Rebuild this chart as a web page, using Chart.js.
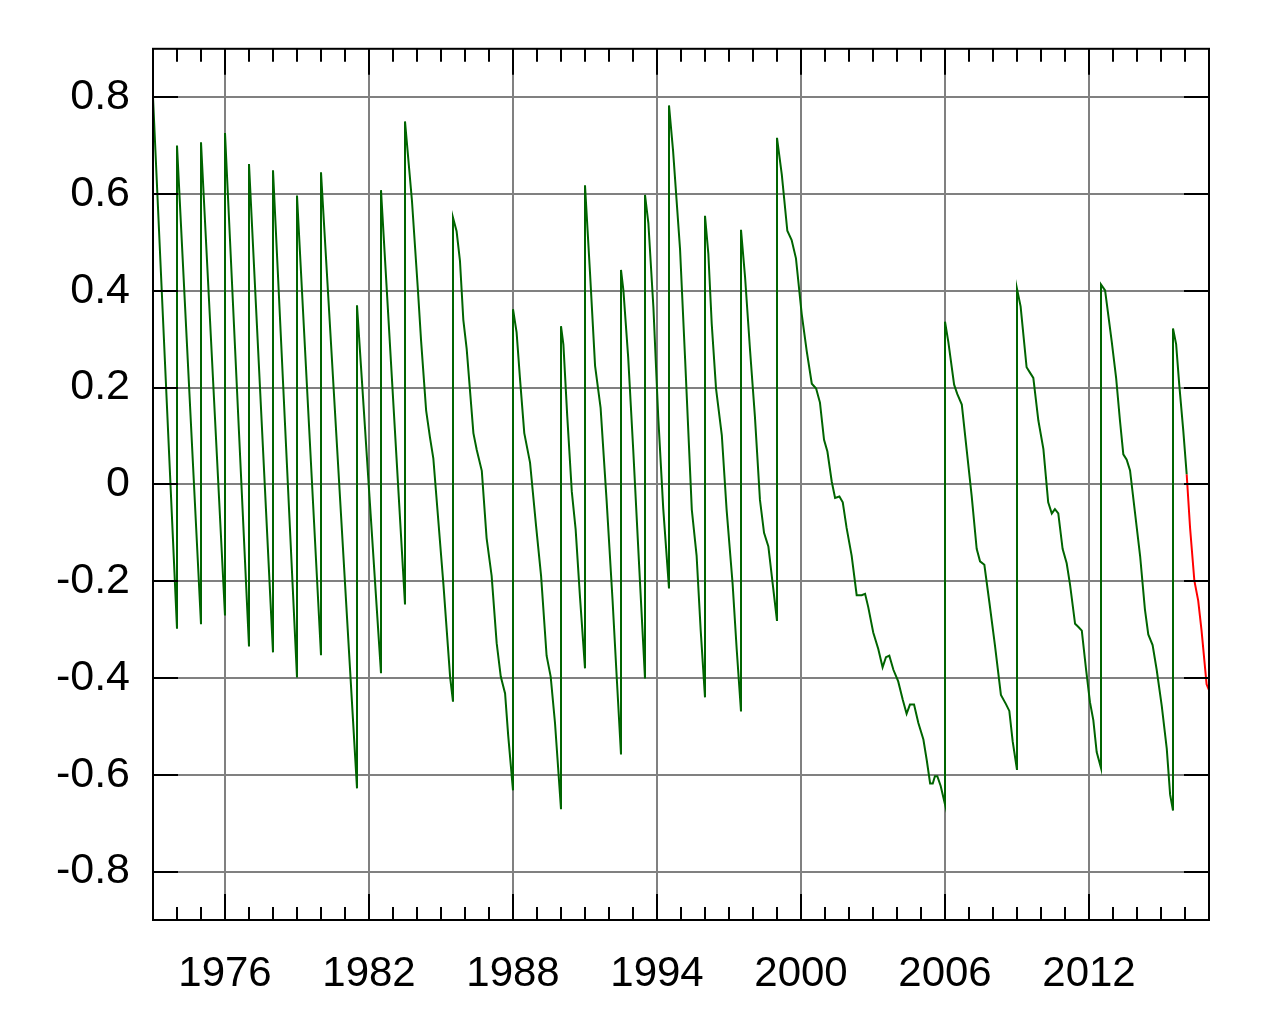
<!DOCTYPE html>
<html>
<head>
<meta charset="utf-8">
<script src="https://cdn.jsdelivr.net/npm/chart.js@4.4.0/dist/chart.umd.min.js"></script>
<style>
html,body{margin:0;padding:0;background:#fff;}
canvas{display:block;}
</style>
</head>
<body>
<canvas id="c" width="1280" height="1024"></canvas>
<script>
// UT1 - UTC (seconds), measured (green) and predicted (red)
const dut1Years = [
1973.00,1974.00,1974.00,1975.00,1975.00,1976.00,1976.00,1977.00,1977.00,1978.00,1978.00,
1979.00,1979.00,1980.00,1980.00,1981.50,1981.50,1982.50,1982.50,1983.50,1983.50,
1983.79,1984.04,1984.17,1984.38,1984.54,1984.68,1985.10,1985.38,1985.50,
1985.50,1985.65,1985.79,1985.93,1986.07,1986.35,1986.49,1986.70,1986.90,1987.11,1987.32,1987.49,1987.67,1987.80,1988.00,
1988.00,1988.15,1988.29,1988.47,1988.71,1988.96,1989.17,1989.40,1989.57,1989.75,1990.00,
1990.00,1990.10,1990.26,1990.45,1990.61,1990.79,1991.00,
1991.00,1991.21,1991.42,1991.65,1991.90,1992.15,1992.32,1992.50,
1992.50,1992.60,1992.80,1993.01,1993.26,1993.50,
1993.50,1993.64,1993.85,1994.05,1994.26,1994.50,
1994.50,1994.67,1994.96,1995.17,1995.45,1995.65,1995.82,1996.00,
1996.00,1996.14,1996.28,1996.46,1996.70,1996.90,1997.15,1997.32,1997.50,
1997.50,1997.67,1997.88,1998.08,1998.29,1998.46,1998.64,1998.82,1999.00,
1999.00,1999.20,1999.43,1999.61,1999.79,2000.03,2000.24,2000.45,2000.63,2000.79,2000.96,
2001.10,2001.28,2001.42,2001.60,2001.74,2001.90,2002.11,2002.32,2002.53,2002.67,2002.80,
2003.01,2003.22,2003.40,2003.54,2003.68,2003.85,2004.05,2004.24,2004.40,2004.54,2004.71,
2004.89,2005.10,2005.24,2005.38,2005.49,2005.58,2005.68,2005.82,2006.00,
2006.00,2006.14,2006.38,2006.51,2006.70,2006.90,2007.11,2007.32,2007.46,2007.64,2007.85,
2008.08,2008.33,2008.54,2008.68,2008.82,2009.00,
2009.00,2009.15,2009.40,2009.54,2009.68,2009.89,2010.10,2010.30,2010.45,2010.58,2010.72,
2010.90,2011.07,2011.21,2011.42,2011.55,2011.70,2011.88,2012.04,2012.18,2012.32,2012.50,
2012.50,2012.67,2012.95,2013.13,2013.29,2013.43,2013.57,2013.71,2013.92,2014.13,2014.33,
2014.47,2014.65,2014.82,2015.03,2015.24,2015.38,2015.50,
2015.50,2015.63,2015.76,2015.93,2016.07
];
const dut1Values = [
0.800,-0.298,0.700,-0.289,0.707,-0.271,0.726,-0.335,0.662,-0.347,0.649,
-0.399,0.597,-0.353,0.645,-0.628,0.370,-0.390,0.608,-0.248,0.750,
0.586,0.400,0.297,0.153,0.097,0.054,-0.206,-0.398,-0.449,
0.551,0.523,0.462,0.340,0.280,0.106,0.071,0.028,-0.111,-0.189,-0.328,-0.397,-0.432,-0.519,-0.632,
0.362,0.314,0.219,0.106,0.045,-0.085,-0.189,-0.354,-0.397,-0.493,-0.671,
0.327,0.289,0.141,-0.015,-0.093,-0.232,-0.380,
0.618,0.436,0.245,0.158,-0.033,-0.241,-0.397,-0.558,
0.443,0.401,0.262,0.071,-0.172,-0.401,
0.598,0.540,0.366,0.141,-0.050,-0.215,
0.783,0.689,0.486,0.260,-0.052,-0.147,-0.301,-0.440,
0.555,0.476,0.332,0.198,0.102,-0.052,-0.205,-0.340,-0.469,
0.526,0.428,0.275,0.140,-0.032,-0.100,-0.128,-0.205,-0.282,
0.716,0.640,0.524,0.505,0.467,0.352,0.275,0.208,0.198,0.169,0.092,
0.068,0.006,-0.028,-0.025,-0.037,-0.090,-0.147,-0.229,-0.229,-0.226,-0.253,
-0.306,-0.340,-0.378,-0.357,-0.354,-0.383,-0.407,-0.445,-0.474,-0.455,-0.455,
-0.493,-0.527,-0.570,-0.618,-0.618,-0.603,-0.603,-0.623,-0.661,
0.336,0.294,0.206,0.187,0.165,0.073,-0.023,-0.133,-0.159,-0.166,-0.244,
-0.332,-0.435,-0.454,-0.468,-0.531,-0.590,
0.404,0.368,0.242,0.231,0.220,0.132,0.073,-0.037,-0.060,-0.051,-0.060,
-0.133,-0.163,-0.207,-0.288,-0.294,-0.302,-0.383,-0.450,-0.487,-0.553,-0.586,
0.413,0.401,0.294,0.220,0.132,0.062,0.051,0.029,-0.060,-0.148,-0.258,
-0.310,-0.332,-0.383,-0.457,-0.546,-0.641,-0.674,
0.322,0.290,0.206,0.110,0.021
];
const predYears  = [2016.07,2016.21,2016.39,2016.55,2016.69,2016.90,2017.00];
const predValues = [0.021,-0.089,-0.199,-0.240,-0.302,-0.413,-0.425];

const xTickLabels = [1976,1982,1988,1994,2000,2006,2012];
const yTickLabels = [-0.8,-0.6,-0.4,-0.2,0,0.2,0.4,0.6,0.8];
const xMinorYears = [];
for (let y = 1974; y <= 2016; y++) if (!xTickLabels.includes(y)) xMinorYears.push(y);

const measured = dut1Years.map((x,i)=>({x:x,y:dut1Values[i]}));
const predicted = predYears.map((x,i)=>({x:x,y:predValues[i]}));

const FONT = "'Liberation Sans', Arial, sans-serif";

const framePlugin = {
  id:'frame',
  afterDatasetsDraw(chart){
    const {ctx, chartArea:a, scales:{x, y}} = chart;
    ctx.save();
    ctx.strokeStyle = '#000';
    ctx.lineWidth = 2;
    ctx.lineCap = 'butt';
    ctx.beginPath();
    xTickLabels.forEach(v=>{
      const px = Math.round(x.getPixelForValue(v));
      ctx.moveTo(px, a.top); ctx.lineTo(px, a.top+26);
      ctx.moveTo(px, a.bottom); ctx.lineTo(px, a.bottom-26);
    });
    xMinorYears.forEach(v=>{
      const px = Math.round(x.getPixelForValue(v));
      ctx.moveTo(px, a.top); ctx.lineTo(px, a.top+13);
      ctx.moveTo(px, a.bottom); ctx.lineTo(px, a.bottom-13);
    });
    yTickLabels.forEach(v=>{
      const py = Math.round(y.getPixelForValue(v));
      ctx.moveTo(a.left, py); ctx.lineTo(a.left+25, py);
      ctx.moveTo(a.right, py); ctx.lineTo(a.right-25, py);
    });
    ctx.stroke();
    ctx.strokeRect(a.left, a.top, a.right-a.left, a.bottom-a.top);
    ctx.restore();
  }
};

new Chart(document.getElementById('c'), {
  type:'line',
  data:{
    datasets:[
      {data:measured, borderColor:'#006400', borderWidth:2, pointRadius:0, tension:0, fill:false},
      {data:predicted, borderColor:'#ff0000', borderWidth:2, pointRadius:0, tension:0, fill:false}
    ]
  },
  options:{
    responsive:false,
    devicePixelRatio:1,
    animation:false,
    events:[],
    layout:{padding:{left:0, top:47, right:71, bottom:0}},
    plugins:{legend:{display:false}, tooltip:{enabled:false}},
    scales:{
      x:{
        type:'linear', min:1973, max:2017,
        afterBuildTicks(s){ s.ticks = xTickLabels.map(v=>({value:v})); },
        afterFit(s){ s.height = 104; },
        grid:{color:'#808080', lineWidth:2, drawTicks:false},
        border:{display:false},
        ticks:{autoSkip:false, maxRotation:0, padding:29, color:'#000',
               font:{family:FONT, size:42}, callback:v=>String(v)}
      },
      y:{
        type:'linear', min:-0.9, max:0.9,
        afterBuildTicks(s){ s.ticks = yTickLabels.map(v=>({value:v})); },
        afterFit(s){ s.width = 153; },
        grid:{color:'#808080', lineWidth:2, drawTicks:false},
        border:{display:false},
        ticks:{autoSkip:false, padding:23, color:'#000',
               font:{family:FONT, size:43},
               callback:v=> Math.abs(v)<1e-9 ? '0' : v.toFixed(1)}
      }
    }
  },
  plugins:[framePlugin]
});
</script>
</body>
</html>
